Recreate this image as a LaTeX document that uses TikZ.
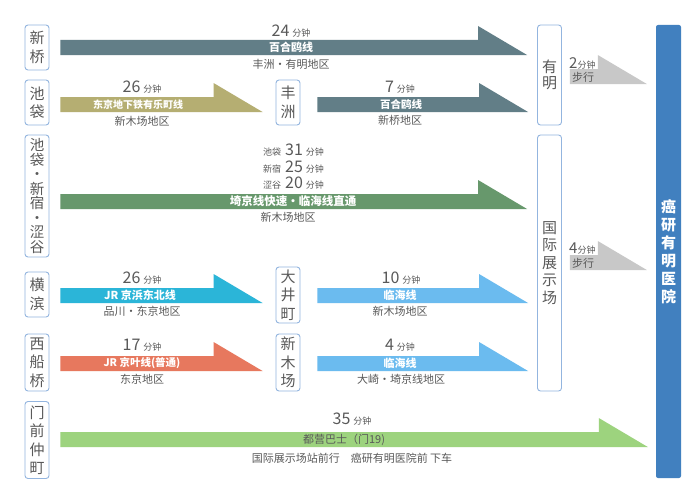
\documentclass[tikz,border=0pt]{standalone}
\usepackage{fontspec}
\setmainfont{Noto Sans CJK SC}
\usepackage{tikz}
\usetikzlibrary{calc}

\definecolor{txt}{HTML}{595959}
\definecolor{boxline}{HTML}{93B5DF}
\definecolor{yurikamome}{HTML}{627E87}
\definecolor{yurakucho}{HTML}{B5AE72}
\definecolor{saikyo}{HTML}{67986C}
\definecolor{keihin}{HTML}{2BB5D8}
\definecolor{keiyo}{HTML}{E7785E}
\definecolor{rinkai}{HTML}{6BBBEF}
\definecolor{bus}{HTML}{9DD37E}
\definecolor{walk}{HTML}{C8C8C8}
\definecolor{hospital}{HTML}{4180BF}

\tikzset{
  station/.style={draw=boxline, line width=0.9pt, rounded corners=3pt, fill=white,
    text=txt, minimum width=24pt, inner sep=0pt, align=center,
    font=\fontsize{15}{18.5}\selectfont},
  timelabel/.style={text=txt, anchor=base, inner sep=0pt},
  linename/.style={text=white, inner sep=0pt, font=\fontsize{11}{11}\selectfont\bfseries},
  area/.style={text=txt, inner sep=0pt, font=\fontsize{11}{11}\selectfont}
}

% number + "分钟"
\newcommand{\mins}[1]{{\fontsize{16}{16}\selectfont #1}\hspace{3pt}{\fontsize{9}{9}\selectfont 分钟}}
% arrow: body from start to the head, head ends at the tip
\newcommand{\routearrow}[3]{
  \fill[#1] let \p1=(#2), \p2=(#3) in
    (\x1,\y2+15pt) -- (\x2-49pt,\y2+15pt) -- (\x2-49pt,\y2+29pt) -- (\x2,\y2) -- (\x1,\y2) -- cycle;
}

\begin{document}
\begin{tikzpicture}[x=1pt, y=-1pt]
\useasboundingbox (0,0) rectangle (700,503);
\fill[white] (0,0) rectangle (700,503);

% arrow levels
\coordinate (r1) at (0,55);
\coordinate (r2) at (0,112);
\coordinate (r3) at (0,209);
\coordinate (r4) at (0,303);
\coordinate (r5) at (0,371);
\coordinate (r6) at (0,447);
\coordinate (w1) at (0,84);
\coordinate (w2) at (0,270);

% stations
\node[station, minimum height=45pt] (xinqiao) at (37,47.5) {新\\桥};
\node[station, minimum height=45pt] (chidai) at (37,102.5) {池\\袋};
\node[station, minimum height=122pt, font=\fontsize{14.5}{14.5}\selectfont] (sanzhan) at (37,196)
  {池\\袋\\・\\新\\宿\\・\\涩\\谷};
\node[station, minimum height=45pt] (hengbin) at (37,294.5) {横\\滨};
\node[station, minimum height=57pt] (xichuan) at (37,362.5) {西\\船\\桥};
\node[station, minimum height=77pt] (menqian) at (37,440) {门\\前\\仲\\町};

\node[station, minimum height=45pt] (fengzhou) at (288,102.5) {丰\\洲};
\node[station, minimum height=56pt] (dajing) at (288,295) {大\\井\\町};
\node[station, minimum height=57pt] (xinmu) at (288,362.5) {新\\木\\场};

\node[station, minimum height=100pt, font=\fontsize{15}{15.5}\selectfont] (youming) at (549.5,75) {有\\明};
\node[station, minimum height=256pt, font=\fontsize{15}{17.5}\selectfont] (guoji) at (549.5,263) {国\\际\\展\\示\\场};

\node[fill=hospital, rounded corners=2pt, minimum width=25pt, minimum height=453pt, inner sep=0pt,
  text=white, align=center, font=\fontsize{15}{18}\selectfont\bfseries] (hospital) at (668.5,251.5)
  {癌\\研\\有\\明\\医\\院};

% arrows
\routearrow{yurikamome}{$(xinqiao.east)+(11,0)$}{$(youming.west |- r1)+(-10,0)$}
\routearrow{yurakucho}{$(chidai.east)+(11,0)$}{$(fengzhou.west |- r2)+(-13,0)$}
\routearrow{yurikamome}{$(fengzhou.east)+(17,0)$}{$(youming.west |- r2)+(-9,0)$}
\routearrow{saikyo}{$(sanzhan.east)+(11,0)$}{$(guoji.west |- r3)+(-10,0)$}
\routearrow{keihin}{$(hengbin.east)+(11,0)$}{$(dajing.west |- r4)+(-13,0)$}
\routearrow{rinkai}{$(dajing.east)+(17,0)$}{$(guoji.west |- r4)+(-9,0)$}
\routearrow{keiyo}{$(xichuan.east)+(11,0)$}{$(xinmu.west |- r5)+(-13,0)$}
\routearrow{rinkai}{$(xinmu.east)+(17,0)$}{$(guoji.west |- r5)+(-9,0)$}
\routearrow{bus}{$(menqian.east)+(11,0)$}{$(hospital.west |- r6)+(-8,0)$}
\routearrow{walk}{$(youming.east)+(8,0)$}{$(hospital.west |- w1)+(-9,0)$}
\routearrow{walk}{$(guoji.east)+(8,0)$}{$(hospital.west |- w2)+(-9,0)$}

% row 1
\node[timelabel] (t1) at (291,37) {\mins{24}};
\node[linename] (n1) at (291,47.5) {百合鸥线};
\node[area] (a1) at (291,64) {丰洲・有明地区};
% row 2
\node[timelabel] (t2) at (142,92) {\mins{26}};
\node[linename, font=\fontsize{10}{10}\selectfont\bfseries] (n2) at (138,104.5) {东京地下铁有乐町线};
\node[area] (a2) at (142,121) {新木场地区};
\node[timelabel] (t2b) at (400,92) {\mins{7}};
\node[linename, font=\fontsize{10.5}{10.5}\selectfont\bfseries] (n2b) at (401,104.5) {百合鸥线};
\node[area] (a2b) at (400,120) {新桥地区};
% row 3
\node[timelabel, anchor=base west] (t3a) at (263,155) {{\fontsize{9}{9}\selectfont 池袋}\hspace{4pt}\mins{31}};
\node[timelabel, anchor=base west] (t3b) at (263,172) {{\fontsize{9}{9}\selectfont 新宿}\hspace{4pt}\mins{25}};
\node[timelabel, anchor=base west] (t3c) at (263,188) {{\fontsize{9}{9}\selectfont 涩谷}\hspace{4pt}\mins{20}};
\node[linename, font=\fontsize{11.5}{11.5}\selectfont\bfseries] (n3) at (293,201.5) {埼京线快速・临海线直通};
\node[area] (a3) at (288,217) {新木场地区};
% row 4
\node[timelabel] (t4) at (142,283) {\mins{26}};
\node[linename] (n4) at (140,295.5) {JR 京浜东北线};
\node[area] (a4) at (142,311) {品川・东京地区};
\node[timelabel] (t4b) at (401,283) {\mins{10}};
\node[linename] (n4b) at (400,295.5) {临海线};
\node[area] (a4b) at (400,311) {新木场地区};
% row 5
\node[timelabel] (t5) at (142,350) {\mins{17}};
\node[linename, font=\fontsize{10.5}{10.5}\selectfont\bfseries] (n5) at (142,363.5) {JR 京叶线(普通)};
\node[area] (a5) at (142,379) {东京地区};
\node[timelabel] (t5b) at (400,350) {\mins{4}};
\node[linename] (n5b) at (400,363.5) {临海线};
\node[area] (a5b) at (401,379) {大崎・埼京线地区};
% row 6
\node[timelabel] (t6) at (352,424) {\mins{35}};
\node[area] (n6) at (344,439.5) {都营巴士（门19)};
\node[area] (a6) at (352,458) {国际展示场站前行　癌研有明医院前 下车};

% walking
\node[timelabel, anchor=base west] (tw1) at (569,68) {{\fontsize{15}{15}\selectfont 2}{\fontsize{9}{9}\selectfont 分钟}};
\node[area] (aw1) at (583,77.5) {步行};
\node[timelabel, anchor=base west] (tw2) at (569,253) {{\fontsize{15}{15}\selectfont 4}{\fontsize{9}{9}\selectfont 分钟}};
\node[area] (aw2) at (583,263) {步行};
\end{tikzpicture}
\end{document}
